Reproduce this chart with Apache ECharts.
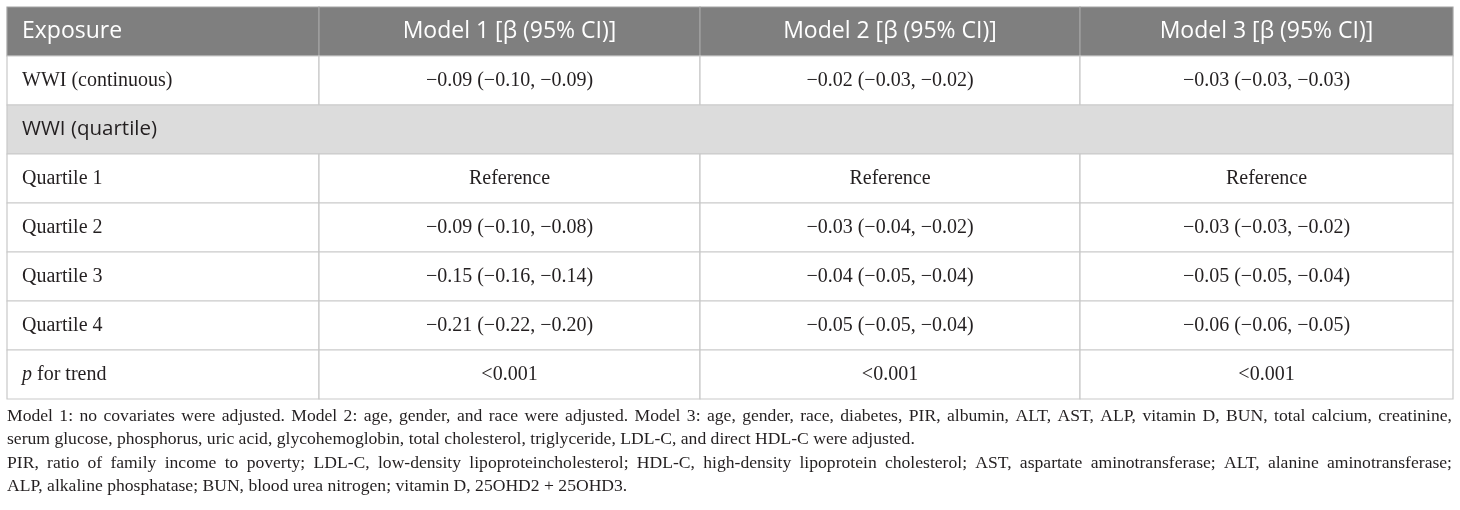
<!DOCTYPE html>
<html>
<head>
<meta charset="utf-8">
<script src="https://cdn.jsdelivr.net/npm/echarts@6/dist/echarts.min.js"></script>
<style>
  html, body { margin: 0; padding: 0; background: #fff; }
  #main { width: 1460px; height: 510px; }
</style>
</head>
<body>
<div id="main"></div>
<script>
// table content
var headers = ['Exposure', 'Model 1 [β (95% CI)]', 'Model 2 [β (95% CI)]', 'Model 3 [β (95% CI)]'];
var rowLabels = ['WWI (continuous)', 'WWI (quartile)', 'Quartile 1', 'Quartile 2', 'Quartile 3', 'Quartile 4', 'p for trend'];
// beta values for: continuous, Q2, Q3, Q4
var model1Beta = [-0.09, -0.09, -0.15, -0.21];
var model1Low  = [-0.10, -0.10, -0.16, -0.22];
var model1High = [-0.09, -0.08, -0.14, -0.20];
var model2Beta = [-0.02, -0.03, -0.04, -0.05];
var model2Low  = [-0.03, -0.04, -0.05, -0.05];
var model2High = [-0.02, -0.02, -0.04, -0.04];
var model3Beta = [-0.03, -0.03, -0.05, -0.06];
var model3Low  = [-0.03, -0.03, -0.05, -0.06];
var model3High = [-0.03, -0.02, -0.04, -0.05];
var pTrend = ['<0.001', '<0.001', '<0.001'];
var footnoteLines = [
  'Model 1: no covariates were adjusted. Model 2: age, gender, and race were adjusted. Model 3: age, gender, race, diabetes, PIR, albumin, ALT, AST, ALP, vitamin D, BUN, total calcium, creatinine,',
  'serum glucose, phosphorus, uric acid, glycohemoglobin, total cholesterol, triglyceride, LDL-C, and direct HDL-C were adjusted.',
  'PIR, ratio of family income to poverty; LDL-C, low-density lipoproteincholesterol; HDL-C, high-density lipoprotein cholesterol; AST, aspartate aminotransferase; ALT, alanine aminotransferase;',
  'ALP, alkaline phosphatase; BUN, blood urea nitrogen; vitamin D, 25OHD2 + 25OHD3.'
];
var justifyLines = [true, false, true, false];

// column edges in table units (px from table left)
var colEdges = [0, 312, 693, 1073, 1446];

var SERIF = '"Liberation Serif", "DejaVu Serif", serif';
var SANS = '"Open Sans", "Noto Sans", sans-serif';

function fmt(v) {
  return v.toFixed(2).replace('-', '\u2212');
}
function ci(b, l, h, i) {
  return fmt(b[i]) + ' (' + fmt(l[i]) + ', ' + fmt(h[i]) + ')';
}

var models = [
  [model1Beta, model1Low, model1High],
  [model2Beta, model2Low, model2High],
  [model3Beta, model3Low, model3High]
];

// build cells: col, row, span, text, kind
var rowKeys = ['header'].concat(rowLabels);
var cells = [];
headers.forEach(function (h, c) {
  cells.push({ col: c, row: 0, span: 1, text: h, kind: 'header' });
});
rowLabels.forEach(function (label, r) {
  var row = r + 1;
  if (label === 'WWI (quartile)') {
    cells.push({ col: 0, row: row, span: 4, text: label, kind: 'band' });
    return;
  }
  var txt = label === 'p for trend' ? '{i|p} for trend' : label;
  cells.push({ col: 0, row: row, span: 1, text: txt, kind: 'label' });
  for (var m = 0; m < 3; m++) {
    var v;
    if (label === 'WWI (continuous)') v = ci(models[m][0], models[m][1], models[m][2], 0);
    else if (label === 'Quartile 1') v = 'Reference';
    else if (label === 'p for trend') v = pTrend[m];
    else {
      var q = parseInt(label.slice(-1), 10) - 1;
      v = ci(models[m][0], models[m][1], models[m][2], q);
    }
    cells.push({ col: m + 1, row: row, span: 1, text: v, kind: 'value' });
  }
});

function renderCell(params, api) {
  var cell = cells[params.dataIndex];
  var yc = api.coord([0, cell.row])[1];
  var h = api.size([0, 1])[1];
  var x0 = api.coord([colEdges[cell.col], cell.row])[0];
  var x1 = api.coord([colEdges[cell.col + cell.span], cell.row])[0];
  var fill = '#fff', stroke = '#c9c9c9', textFill = '#231f20', font = SERIF, size = 20;
  var align = 'center', tx = (x0 + x1) / 2;
  if (cell.kind === 'header') {
    fill = '#7f7f7f'; stroke = '#a3a3a3'; textFill = '#fff'; font = SANS; size = 23;
  } else if (cell.kind === 'band') {
    fill = '#dcdcdc'; font = SANS; size = 20.5;
  }
  if (cell.col === 0) { align = 'left'; tx = x0 + 15; }
  return {
    type: 'group',
    children: [{
      type: 'rect',
      shape: { x: x0, y: yc - h / 2, width: x1 - x0, height: h },
      style: { fill: fill, stroke: stroke, lineWidth: 1.2 }
    }, {
      type: 'text',
      x: tx, y: yc,
      style: {
        text: cell.text,
        fill: textFill,
        font: size + 'px ' + font,
        align: align,
        verticalAlign: 'middle',
        rich: {
          i: { fontFamily: SERIF, fontStyle: 'italic', fontSize: size, fill: textFill }
        }
      }
    }]
  };
}

// footnote, with simple justification for full lines
var measureCtx = document.createElement('canvas').getContext('2d');
var footFont = '17.6px ' + SERIF;
measureCtx.font = footFont;
var footLeft = 7, footRight = 1452, footTop = 425, footStep = 23.6;
var footGraphics = [];
footnoteLines.forEach(function (line, i) {
  var baseY = footTop + i * footStep;
  if (!justifyLines[i]) {
    footGraphics.push({
      type: 'text', x: footLeft, y: baseY,
      style: { text: line, font: footFont, fill: '#231f20', verticalAlign: 'bottom' }
    });
    return;
  }
  var words = line.split(' ');
  var wordsW = 0;
  words.forEach(function (w) { wordsW += measureCtx.measureText(w).width; });
  var gap = (footRight - footLeft - wordsW) / (words.length - 1);
  var x = footLeft;
  words.forEach(function (w) {
    footGraphics.push({
      type: 'text', x: x, y: baseY,
      style: { text: w, font: footFont, fill: '#231f20', verticalAlign: 'bottom' }
    });
    x += measureCtx.measureText(w).width + gap;
  });
});

var chart = echarts.init(document.getElementById('main'));
chart.setOption({
  animation: false,
  grid: { left: 7, right: 7, top: 7, height: 392 },
  xAxis: { type: 'value', min: 0, max: colEdges[colEdges.length - 1], show: false },
  yAxis: { type: 'category', data: rowKeys, inverse: true, show: false },
  series: [{
    type: 'custom',
    renderItem: renderCell,
    data: cells.map(function (c) { return [colEdges[c.col], c.row]; }),
    encode: { x: 0, y: 1 },
    silent: true
  }],
  graphic: footGraphics
});
</script>
</body>
</html>
